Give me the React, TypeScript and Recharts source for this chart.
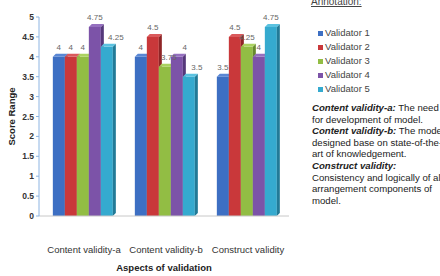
import React from 'react';
import {
  BarChart,
  Bar,
  XAxis,
  YAxis,
  LabelList,
} from 'recharts';

// categories and values
const aspects = ['Content validity-a', 'Content validity-b', 'Construct validity'];
const validator1 = [4, 4, 3.5];
const validator2 = [4, 4.5, 4.5];
const validator3 = [4, 3.75, 4.25];
const validator4 = [4.75, 4, 4];
const validator5 = [4.25, 3.5, 4.75];
const yTicks = [0, 0.5, 1, 1.5, 2, 2.5, 3, 3.5, 4, 4.5, 5];

const seriesNames = ['Validator 1', 'Validator 2', 'Validator 3', 'Validator 4', 'Validator 5'];
const seriesValues = [validator1, validator2, validator3, validator4, validator5];

// front / side / top shades for the 3D look
const palette = [
  { front: '#3d6fc3', side: '#2a4f90', top: '#5a87d4' },
  { front: '#c9383a', side: '#8f2527', top: '#da5a5c' },
  { front: '#92bd44', side: '#678a2d', top: '#abd260' },
  { front: '#7c53a8', side: '#55387a', top: '#9570bf' },
  { front: '#35aacf', side: '#227a97', top: '#5bc2e0' },
];

// a few data labels are nudged sideways in the original to dodge neighbours
const labelNudge: Record<string, number> = {
  '4-0': 9,
  '2-1': 4,
  '3-1': 8,
  '4-1': 8,
};

const data = aspects.map((name, i) => {
  const row: Record<string, string | number> = { name };
  seriesNames.forEach((s, k) => {
    row[s] = seriesValues[k][i];
  });
  return row;
});

const DEPTH = 3;

const Bar3D = (props: any) => {
  const { x, y, width, height, index } = props;
  const c = palette[props.colorIndex];
  if (height <= 0) return null;
  const d = DEPTH;
  return (
    <g key={index}>
      <rect x={x} y={y} width={width} height={height} fill={c.front} />
      <polygon
        points={`${x + width},${y} ${x + width + d},${y - d} ${x + width + d},${y + height - d} ${x + width},${y + height}`}
        fill={c.side}
      />
      <polygon
        points={`${x},${y} ${x + d},${y - d} ${x + width + d},${y - d} ${x + width},${y}`}
        fill={c.top}
      />
    </g>
  );
};

const makeLabel = (k: number) => (props: any) => {
  const { x, y, width, value, index } = props;
  const dx = labelNudge[`${k}-${index}`] || 0;
  return (
    <text
      x={x + width / 2 + dx}
      y={y - 7}
      textAnchor="middle"
      fontSize={8}
      fill="#666"
    >
      {value}
    </text>
  );
};

const YTitle = (props: any) => {
  const { viewBox } = props;
  const cy = viewBox.y + viewBox.height / 2;
  return (
    <text
      x={11}
      y={cy}
      transform={`rotate(-90, 11, ${cy})`}
      textAnchor="middle"
      dominantBaseline="central"
      fontSize={9.5}
      fontWeight="bold"
      fill="#222"
    >
      Score Range
    </text>
  );
};

const noteLine: React.CSSProperties = { whiteSpace: 'nowrap', height: 11.6, lineHeight: '11.6px' };

const App: React.FC = () => {
  return (
    <div
      style={{
        position: 'absolute',
        left: 0,
        top: 0,
        width: 440,
        height: 276,
        overflow: 'hidden',
        background: '#fff',
        fontFamily: 'Liberation Sans, Arial, sans-serif',
      }}
    >
      <BarChart
        width={440}
        height={276}
        data={data}
        margin={{ top: 17, right: 151, left: 0, bottom: 2 }}
        barCategoryGap="12%"
        barGap={0}
      >
        <XAxis
          dataKey="name"
          axisLine={{ stroke: '#c8c8c8' }}
          tickLine={false}
          tickSize={0}
          tickMargin={30}
          height={58}
          padding={{ left: 4, right: 0 }}
          tick={{ fontSize: 9.5, fill: '#333' }}
          interval={0}
          label={{
            value: 'Aspects of validation',
            position: 'insideBottom',
            offset: 3,
            fontSize: 9.5,
            fontWeight: 'bold',
            fill: '#222',
          }}
        />
        <YAxis
          domain={[0, 5]}
          ticks={yTicks}
          interval={0}
          width={39}
          axisLine={{ stroke: '#8db4e2' }}
          tickLine={{ stroke: '#8db4e2' }}
          tickSize={3}
          tickMargin={2}
          tick={{ fontSize: 8.5, fontWeight: 'bold', fill: '#333' }}
          label={<YTitle />}
        />
        {seriesNames.map((s, k) => (
          <Bar
            key={s}
            dataKey={s}
            fill={palette[k].front}
            isAnimationActive={false}
            shape={(p: any) => <Bar3D {...p} colorIndex={k} />}
          >
            <LabelList dataKey={s} content={makeLabel(k)} />
          </Bar>
        ))}
      </BarChart>

      <div
        style={{
          position: 'absolute',
          left: 311,
          top: -4,
          fontSize: 10,
          color: '#444',
          textDecoration: 'underline',
        }}
      >
        Annotation:
      </div>

      {/* legend */}
      <div
        style={{
          position: 'absolute',
          left: 318,
          top: 26,
          fontSize: 9.5,
          color: '#444',
        }}
      >
        {seriesNames.map((s, k) => (
          <div key={s} style={{ height: 14, lineHeight: '14px', display: 'flex', alignItems: 'center' }}>
            <span
              style={{
                display: 'inline-block',
                width: 5,
                height: 5,
                background: palette[k].front,
                marginRight: 2,
              }}
            />
            {s}
          </div>
        ))}
      </div>

      <div
        style={{
          position: 'absolute',
          left: 312,
          top: 102,
          fontSize: 9.6,
          color: '#222',
        }}
      >
        <div style={noteLine}>
          <b><i>Content validity-a:</i></b> The need
        </div>
        <div style={noteLine}>for development of model.</div>
        <div style={noteLine}>
          <b><i>Content validity-b:</i></b> The model
        </div>
        <div style={noteLine}>designed base on state-of-the-</div>
        <div style={noteLine}>art of knowledgement.</div>
        <div style={noteLine}>
          <b><i>Construct validity:</i></b>
        </div>
        <div style={noteLine}>Consistency and logically of all</div>
        <div style={noteLine}>arrangement components of</div>
        <div style={noteLine}>model.</div>
      </div>
    </div>
  );
};

export default App;
